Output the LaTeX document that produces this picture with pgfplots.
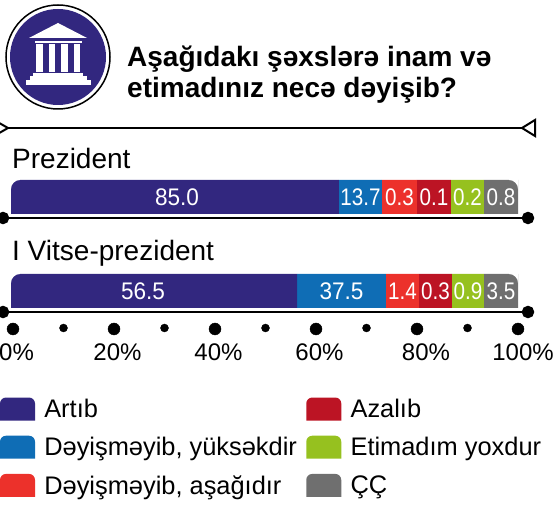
\documentclass[border=0pt]{standalone}
\usepackage{fontspec}
\setmainfont{Liberation Sans}
\usepackage{graphicx}
\usepackage{pgfplots}
\usepackage{pgfplotstable}
\pgfplotsset{compat=1.18}
\definecolor{cPur}{HTML}{32277F}
\definecolor{cBlu}{HTML}{0F6DB5}
\definecolor{cRed}{HTML}{EC312B}
\definecolor{cDrd}{HTML}{BC1424}
\definecolor{cGrn}{HTML}{96C11F}
\definecolor{cGry}{HTML}{6F6F6F}
\newcommand{\fs}[1]{\fontsize{#1}{#1}\selectfont}
% Bar widths are the drawn lengths in the reference (not proportional to the printed values).
\pgfplotstableread{
x y label
32.74 2 85.0
26.04 1 56.5
65.19 1 37.5
}\widelabels
\pgfplotstableread{
x y label
68.93 2 13.7
76.63 2 0.3
83.43 2 0.1
90.04 2 0.2
96.65 2 0.8
77.22 1 1.4
83.73 1 0.3
90.14 1 0.9
96.65 1 3.5
}\narrowlabels
\pgfplotsset{
  common/.style={scale only axis,clip=false,xmin=0,xmax=100,ymin=0.5957,ymax=2.287,
    width=507pt,height=159pt,at={(11pt,176pt)},anchor=south west},
  swatch/.style={legend image code/.code={
    \fill[##1,draw=none] (0pt,-11.5pt) [rounded corners=6pt] -- (0pt,11.5pt) -- (35pt,11.5pt) [sharp corners] -- (35pt,-11.5pt) -- cycle;}},
}
\begin{document}
\begin{tikzpicture}
\useasboundingbox (0,0) rectangle (553pt,505pt);
% bars and legend
\begin{axis}[common,xbar stacked,bar width=34pt,axis line style={draw=none},
  xtick=\empty,ytick=\empty,swatch,
  legend columns=3,transpose legend,
  legend style={at={(-11pt,-68.5pt)},anchor=north west,draw=none,fill=none,
    font=\fs{25.4},inner sep=0pt,outer sep=0pt,
    row sep=15.2pt,
    nodes={inner sep=0pt,outer sep=0pt},
    /tikz/column sep=9.3pt},
  legend cell align=left]
\addplot[fill=cPur,draw=none] coordinates {(64.69,2) (56.41,1)};
\addplot[fill=cBlu,draw=none] coordinates {(8.48,2) (17.55,1)};
\addplot[fill=cRed,draw=none] coordinates {(6.90,2) (6.51,1)};
\addplot[fill=cDrd,draw=none] coordinates {(6.71,2) (6.51,1)};
\addplot[fill=cGrn,draw=none] coordinates {(6.51,2) (6.31,1)};
\addplot[fill=cGry,draw=none] coordinates {(6.71,2) (6.71,1)};
\legend{Artıb,{Dəyişməyib, yüksəkdir},{Dəyişməyib, aşağıdır},Azalıb,Etimadım yoxdur,ÇÇ}
\end{axis}
% rounded corners and value labels
\begin{axis}[common,hide axis]
\addplot[fill=white,draw=none] coordinates {(0,2.19) (0,2.0852) (.135,2.1218) (.52,2.1529) (1.096,2.1736) (1.775,2.1809) (1.775,2.19)} --cycle;
\addplot[fill=white,draw=none] coordinates {(100,2.19) (100,2.0852) (99.865,2.1218) (99.48,2.1529) (98.904,2.1736) (98.225,2.1809) (98.225,2.19)} --cycle;
\addplot[fill=white,draw=none] coordinates {(0,1.19) (0,1.0852) (.135,1.1218) (.52,1.1529) (1.096,1.1736) (1.775,1.1809) (1.775,1.19)} --cycle;
\addplot[fill=white,draw=none] coordinates {(100,1.19) (100,1.0852) (99.865,1.1218) (99.48,1.1529) (98.904,1.1736) (98.225,1.1809) (98.225,1.19)} --cycle;
\addplot[only marks,mark=none,point meta=explicit symbolic,
  nodes near coords={\scalebox{0.94}[1]{\pgfplotspointmeta}},
  every node near coord/.style={anchor=center,text=white,font=\fs{24},inner sep=0pt}]
  table[x=x,y=y,meta=label] {\widelabels};
\addplot[only marks,mark=none,point meta=explicit symbolic,
  nodes near coords={\scalebox{0.86}[1]{\pgfplotspointmeta}},
  every node near coord/.style={anchor=center,text=white,font=\fs{24},inner sep=0pt}]
  table[x=x,y=y,meta=label] {\narrowlabels};
\end{axis}
% scale, baselines
\begin{axis}[scale only axis,clip=false,xmin=0,xmax=100,ymin=0,ymax=159,
  width=505pt,height=159pt,at={(13pt,176pt)},anchor=south west,
  axis line style={draw=none},tick style={draw=none},major tick length=0pt,
  xtick={0,20,40,60,80,100},
  xticklabels={0\%,20\%,40\%,60\%,\hspace*{11pt}80\%,\hspace*{3pt}100\%},
  xticklabel style={font=\fs{24},yshift=-11pt,xshift=3.5pt},ytick=\empty,xtick pos=bottom]
\addplot[black,line width=2.4pt,mark=*,mark size=5pt,mark options={fill=black,draw=none}] coordinates {(-1.98,111) (101.98,111)};
\addplot[black,line width=2.4pt,mark=*,mark size=5pt,mark options={fill=black,draw=none}] coordinates {(-1.98,17) (101.98,17)};
\addplot[only marks,mark=*,mark size=6pt,mark options={fill=black,draw=none}] coordinates {(0,0) (20,0) (40,0) (60,0) (80,0) (100,0)};
\addplot[only marks,mark=*,mark size=4pt,mark options={fill=black,draw=none}] coordinates {(10,1) (30,1) (50,1) (70,1) (90,1)};
\end{axis}
% header, in pixel coordinates from the top-left corner
\begin{scope}[x=1pt,y=-1pt,yshift=505pt]
\draw[black,line width=1.5pt,fill=white] (58,57) circle (52);
\fill[cPur] (58,57) circle (48);
\fill[white] (58,23) -- (87,38) -- (29,38) -- cycle;
\fill[white] (35,41) rectangle (82,43);
\foreach \a/\b in {36/43,49/55,61/68,74/80} \fill[white] (\a,44) rectangle (\b,72);
\fill[white] (33,73) rectangle (83,76);
\fill[white] (30,76) rectangle (87,80);
\fill[white] (26,80) rectangle (91,85);
\node[anchor=base west,inner sep=0pt,font=\fs{28}\bfseries] at (127,67) {Aşağıdakı şəxslərə inam və};
\node[anchor=base west,inner sep=0pt,font=\fs{28}\bfseries] at (127,98) {etimadınız necə dəyişib?};
\draw[black,line width=2pt] (7,128) -- (522,128);
\draw[black,line width=2pt,fill=white] (8,128) -- (-6,120) -- (-6,136) -- cycle;
\draw[black,line width=2pt,fill=white] (522,128) -- (535,120) -- (535,136) -- cycle;
\node[anchor=base west,inner sep=0pt,font=\fs{28}] at (12,169) {Prezident};
\node[anchor=base west,inner sep=0pt,font=\fs{28}] at (12,261) {I Vitse-prezident};
\end{scope}
\end{tikzpicture}
\end{document}
